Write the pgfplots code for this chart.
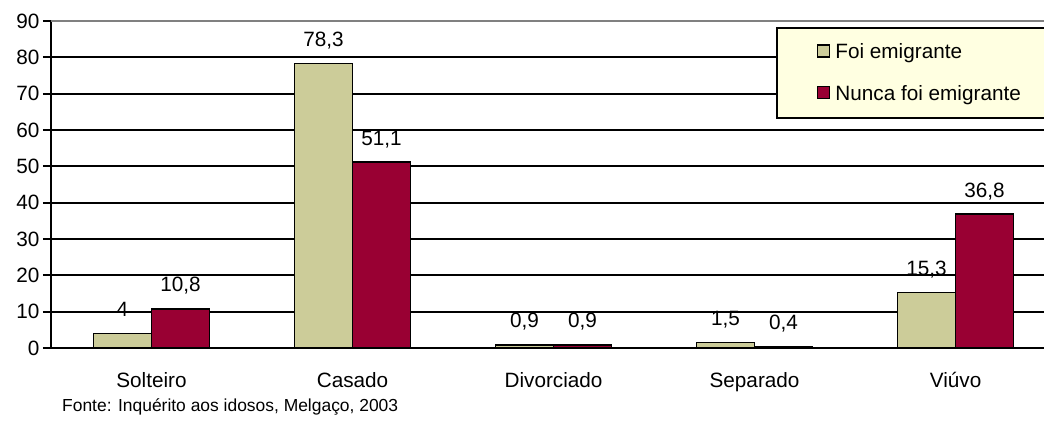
\documentclass[border=0pt]{standalone}
\usepackage{pgfplots}
\pgfplotsset{compat=1.18}
\usepackage{fontspec}
\setmainfont{Liberation Sans}
\definecolor{emig}{RGB}{204,204,153}
\definecolor{nunca}{RGB}{153,0,51}
\definecolor{legfill}{RGB}{255,255,225}
\newcommand{\lbl}{\fontsize{20.8}{24}\selectfont}
\begin{document}
\begin{tikzpicture}
\useasboundingbox (0,0) rectangle (1044bp,421bp);
\clip (0,0) rectangle (1044bp,421bp);
\begin{axis}[
  at={(51bp,73bp)}, anchor=south west,
  scale only axis, width=993bp, height=327bp,
  xmin=-0.5, xmax=4.44, ymin=0, ymax=90,
  axis x line=bottom, axis y line=left,
  axis line style={-, black, line width=1.8bp},
  ybar=0pt, bar width=58bp,
  xtick={0,1,2,3,4},
  xticklabels={Solteiro,Casado,Divorciado,Separado,Viúvo},
  x tick style={draw=none},
  extra x ticks={0.5,1.5,2.5,3.5},
  extra x tick labels={},
  extra x tick style={tick style={draw=black, line width=1.8bp}, major tick length=8bp},
  xticklabel style={font=\lbl, anchor=base, yshift=-31bp},
  ytick={0,10,...,80},
  extra y ticks={90},
  extra y tick style={grid style={draw=gray, line width=1.8bp}},
  ymajorgrids,
  grid style={draw=black, line width=1.7bp},
  tick align=outside,
  y tick style={draw=black, line width=1.8bp},
  major tick length=8bp,
  yticklabel style={font=\lbl, anchor=east, xshift=0bp},
  /pgf/number format/assume math mode=true,
  nodes near coords={\pgfmathprintnumber[use comma]{\pgfplotspointmeta}},
  every node near coord/.append style={font=\lbl, anchor=base, yshift=17bp, inner sep=0pt},
  legend style={at={(0.730,0.982)}, anchor=north west, fill=legfill, draw=black,
    line width=1.8bp, inner xsep=40bp, inner ysep=14bp, row sep=21bp, font=\lbl},
  legend cell align=left,
  legend image code/.code={\draw[#1, line width=1.6bp] (0bp,-5bp) rectangle (12bp,7bp);\path (15bp,0bp);},
]
\addplot[fill=emig, draw=black, line width=1.7bp] coordinates {(0,4) (1,78.3) (2,0.9) (3,1.5) (4,15.3)};
\addlegendentry{Foi emigrante}
\addplot[fill=nunca, draw=black, line width=1.7bp] coordinates {(0,10.8) (1,51.1) (2,0.9) (3,0.4) (4,36.8)};
\addlegendentry{Nunca foi emigrante}
\end{axis}
\node[anchor=base west, inner sep=0pt, font=\fontsize{17.5}{20}\selectfont] at (62bp,10bp) {Fonte: Inquérito aos idosos, Melgaço, 2003};
\end{tikzpicture}
\end{document}
